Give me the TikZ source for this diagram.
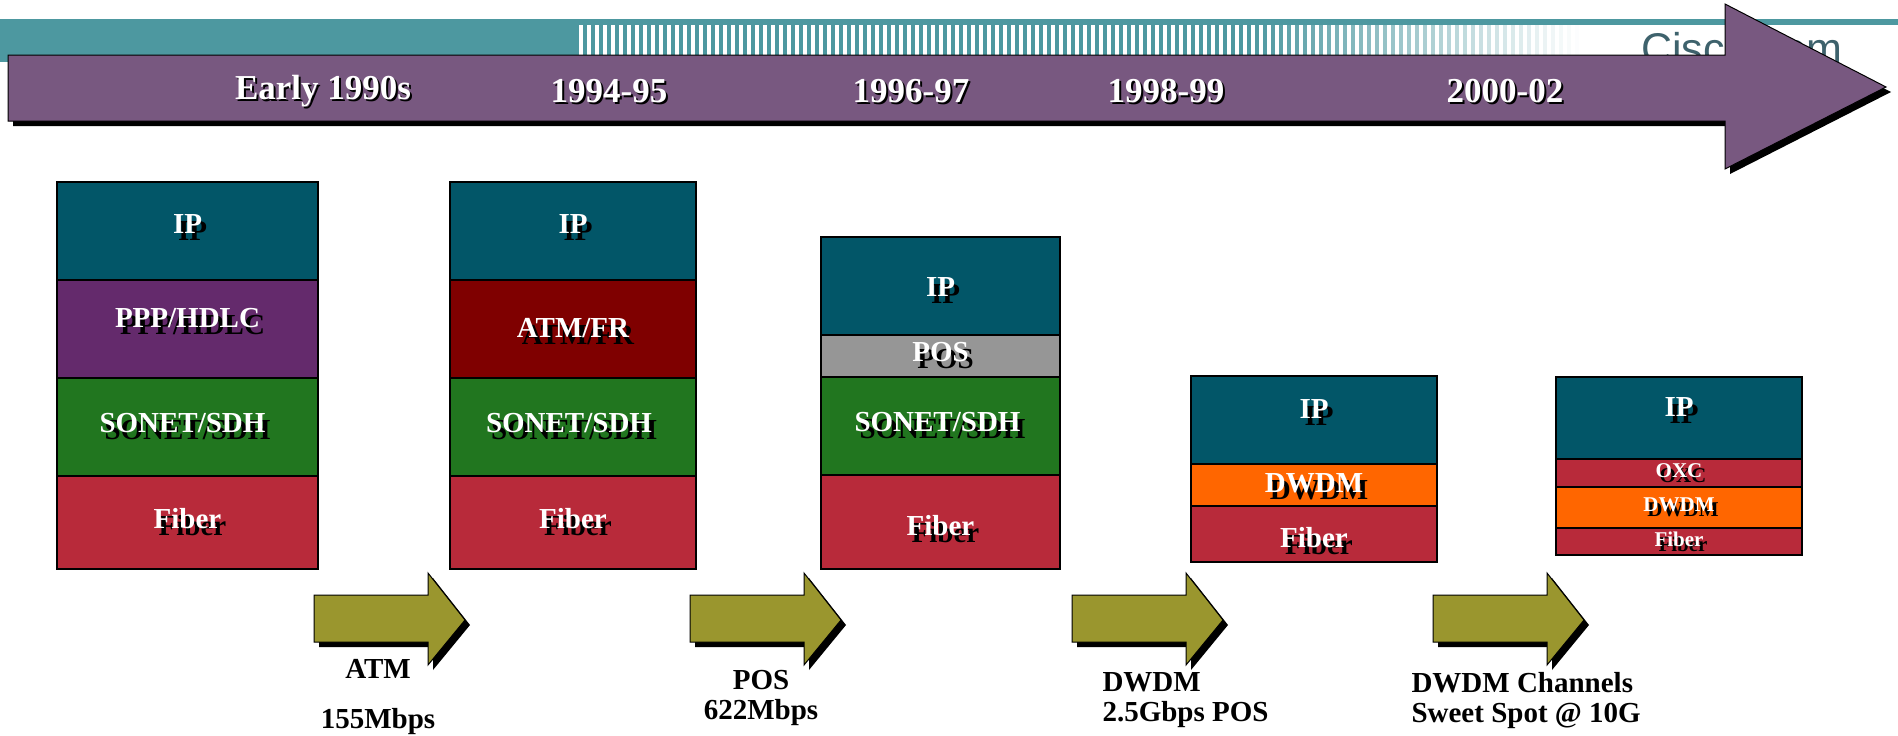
\documentclass[tikz,border=0pt]{standalone}
\usepackage{fontspec}
\setmainfont{Liberation Serif}
\newfontfamily\logofont{Liberation Sans}
\usepackage{tikz}
\usetikzlibrary{positioning}

\definecolor{bandteal}{RGB}{77,152,160}
\definecolor{barpurple}{RGB}{120,88,128}
\definecolor{logogray}{RGB}{62,98,108}
\definecolor{ipteal}{RGB}{2,86,104}
\definecolor{ppppurple}{RGB}{100,42,108}
\definecolor{sonetgreen}{RGB}{33,118,31}
\definecolor{fiberred}{RGB}{184,42,58}
\definecolor{atmred}{RGB}{127,0,0}
\definecolor{posgray}{RGB}{150,150,150}
\definecolor{dwdmorange}{RGB}{255,102,0}
\definecolor{stepolive}{RGB}{154,150,46}

% white text with a dropped black copy
\newcommand{\shadowed}[3]{\makebox[0pt][l]{\hspace*{#1}\raisebox{-#2}{\color{black}#3}}{\color{white}#3}}
\newcommand{\lbl}[2][0pt]{\raisebox{#1}[\height][\depth]{\shadowed{5pt}{7pt}{#2}}}

\begin{document}
\begin{tikzpicture}[x=1pt,y=-1pt]
\tikzstyle{layer}=[rectangle, draw=black, line width=1.2pt, inner sep=0pt, outer sep=0pt, anchor=north west, font=\bfseries\fontsize{29}{32}\selectfont]
\tikzstyle{thin layer}=[layer, font=\bfseries\fontsize{21}{24}\selectfont]
\tikzstyle{year}=[font=\bfseries\fontsize{35}{40}\selectfont]
\tikzstyle{caption}=[font=\bfseries\fontsize{29}{30}\selectfont, text=black]

\useasboundingbox (0,0) rectangle (1898,736);

% header band
\fill[bandteal] (0,19) rectangle (575,62);
\fill[bandteal] (0,19) rectangle (1898,25);
\foreach \sx in {575,583,...,1575} {
  \pgfmathsetmacro\op{min(1,max(0,(1580-\sx)/330))}
  \fill[bandteal, opacity=\op] (\sx,25) rectangle ++(4,30);
}
\node (logo) [anchor=base west, inner sep=0pt, text=logogray, font=\logofont\fontsize{43}{46}\selectfont] at (1641,63) {Cisco.com};

% timeline
\fill[black, xshift=5pt, yshift=-5pt] (8,55) -- (1725,55) -- (1725,4) -- (1886,87) -- (1725,169) -- (1725,121) -- (8,121) -- cycle;
\filldraw[fill=barpurple, draw=black, line width=1pt] (8,55) -- (1725,55) -- (1725,4) -- (1886,87) -- (1725,169) -- (1725,121) -- (8,121) -- cycle;

\node (y90) [year] at (323,92) {\shadowed{2pt}{2pt}{Early 1990s}};
\node (y94) [year] at (609,92) {\shadowed{2pt}{2pt}{1994-95}};
\node (y96) [year] at (911,92) {\shadowed{2pt}{2pt}{1996-97}};
\node (y98) [year] at (1166,92) {\shadowed{2pt}{2pt}{1998-99}};
\node (y00) [year] at (1505,92) {\shadowed{2pt}{2pt}{2000-02}};

% early 1990s
\node (ip1) [layer, fill=ipteal, minimum width=261pt, minimum height=98pt] at (57,182) {\lbl[3pt]{IP}};
\node (ppp1) [layer, fill=ppppurple, minimum width=261pt, minimum height=98pt, below=0pt of ip1] {\lbl[7pt]{PPP/HDLC}};
\node (sonet1) [layer, fill=sonetgreen, minimum width=261pt, minimum height=98pt, below=0pt of ppp1] {\hspace*{-10pt}\lbl{SONET/SDH}};
\node (fiber1) [layer, fill=fiberred, minimum width=261pt, minimum height=93pt, below=0pt of sonet1] {\lbl{Fiber}};

% 1994-95
\node (ip2) [layer, fill=ipteal, minimum width=246pt, minimum height=98pt] at (450,182) {\lbl[3pt]{IP}};
\node (atm2) [layer, fill=atmred, minimum width=246pt, minimum height=98pt, below=0pt of ip2] {\lbl[-3pt]{ATM/FR}};
\node (sonet2) [layer, fill=sonetgreen, minimum width=246pt, minimum height=98pt, below=0pt of atm2] {\hspace*{-8pt}\lbl{SONET/SDH}};
\node (fiber2) [layer, fill=fiberred, minimum width=246pt, minimum height=93pt, below=0pt of sonet2] {\lbl{Fiber}};

% 1996-97
\node (ip3) [layer, fill=ipteal, minimum width=239pt, minimum height=98pt] at (821,237) {\lbl[-5pt]{IP}};
\node (pos3) [layer, fill=posgray, minimum width=239pt, minimum height=42pt, below=0pt of ip3] {\lbl{POS}};
\node (sonet3) [layer, fill=sonetgreen, minimum width=239pt, minimum height=98pt, below=0pt of pos3] {\hspace*{-6pt}\lbl{SONET/SDH}};
\node (fiber3) [layer, fill=fiberred, minimum width=239pt, minimum height=94pt, below=0pt of sonet3] {\lbl[-7pt]{Fiber}};

% 1998-99
\node (ip4) [layer, fill=ipteal, minimum width=246pt, minimum height=88pt] at (1191,376) {\lbl[7pt]{IP}};
\node (dwdm4) [layer, fill=dwdmorange, minimum width=246pt, minimum height=42pt, below=0pt of ip4] {\lbl[-2pt]{DWDM}};
\node (fiber4) [layer, fill=fiberred, minimum width=246pt, minimum height=56pt, below=0pt of dwdm4] {\lbl[-7pt]{Fiber}};

% 2000-02
\node (ip5) [layer, fill=ipteal, minimum width=246pt, minimum height=82pt] at (1556,377) {\lbl[7pt]{IP}};
\node (oxc5) [thin layer, fill=fiberred, minimum width=246pt, minimum height=28pt, below=0pt of ip5] {\shadowed{4pt}{5pt}{OXC}};
\node (dwdm5) [thin layer, fill=dwdmorange, minimum width=246pt, minimum height=41pt, below=0pt of oxc5] {\shadowed{4pt}{5pt}{DWDM}};
\node (fiber5) [thin layer, fill=fiberred, minimum width=246pt, minimum height=27pt, below=0pt of dwdm5] {\shadowed{4pt}{5pt}{Fiber}};

% transition arrows
\foreach \ax in {314,690,1072,1433} {
  \fill[black, xshift=5pt, yshift=-5pt] (\ax,595) -- ++(114,0) -- ++(0,-22) -- ++(37,47) -- ++(-37,45) -- ++(0,-23) -- ++(-114,0) -- cycle;
  \filldraw[fill=stepolive, draw=black, line width=1pt] (\ax,595) -- ++(114,0) -- ++(0,-22) -- ++(37,47) -- ++(-37,45) -- ++(0,-23) -- ++(-114,0) -- cycle;
}

\node (atm) [caption] at (378,669) {ATM};
\node (atmrate) [caption] at (378,722) {155Mbps};
\node (pos) [caption, align=center] at (761,698) {POS\\622Mbps};
\node (dwdm) [caption, align=left, anchor=west] at (1099,700) {DWDM\\2.5Gbps POS};
\node (channels) [caption, align=left, anchor=west] at (1408,701) {DWDM Channels\\Sweet Spot @ 10G};

\end{tikzpicture}
\end{document}
